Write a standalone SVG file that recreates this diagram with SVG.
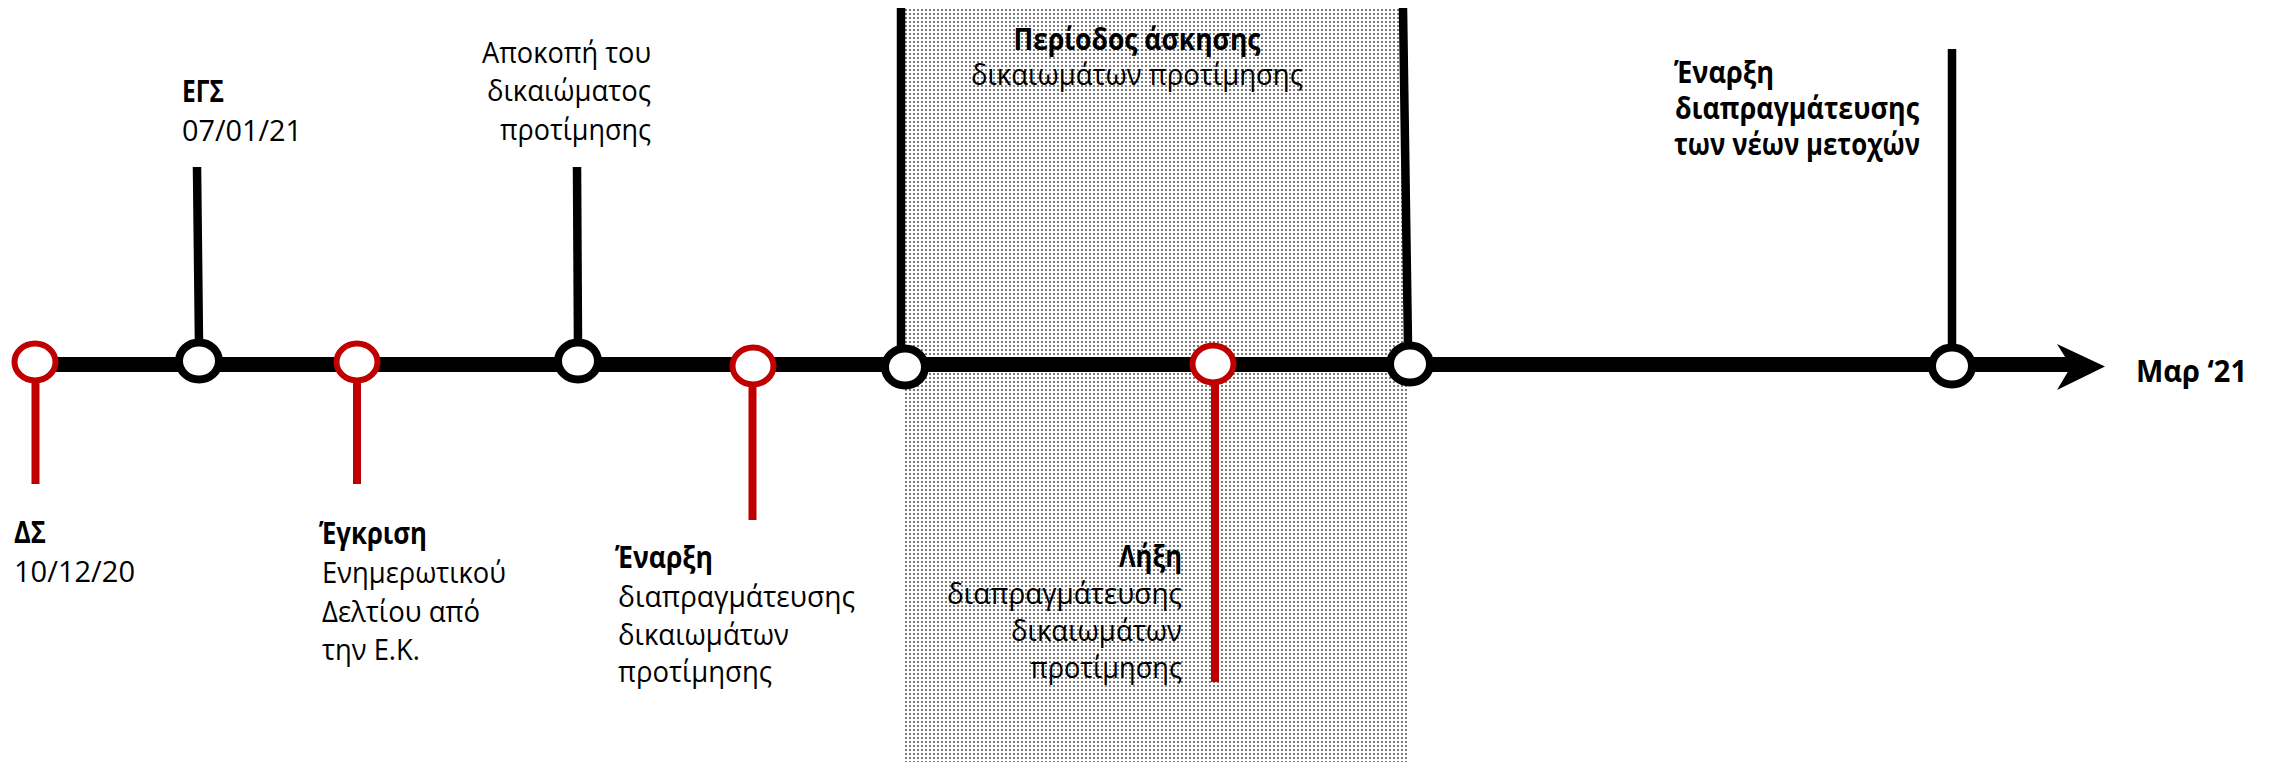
<svg xmlns="http://www.w3.org/2000/svg" width="2277" height="762" viewBox="0 0 2277 762">
<defs>
<pattern id="dots" width="4" height="4" patternUnits="userSpaceOnUse">
<rect width="4" height="4" fill="#ffffff"/>
<rect x="1" y="1" width="2" height="2" fill="#7a7a7a"/>
</pattern>
<style>
text{font-family:"Open Sans","Noto Sans","DejaVu Sans",sans-serif;font-size:29.5px;fill:#000}
.b{font-weight:700}
.e{text-anchor:end}
.m{text-anchor:middle}
.red{fill:#fff;stroke:#C00000;stroke-width:6}
.blk{fill:#fff;stroke:#000;stroke-width:8}
.rs{stroke:#C00000;stroke-width:8;fill:none}
.bs{stroke:#000;stroke-width:8.5;fill:none}
</style>
</defs>
<rect width="2277" height="762" fill="#fff"/>
<g id="period">
<rect x="905" y="8" width="503" height="754" fill="url(#dots)"/>
<line class="bs" x1="901" y1="8" x2="901" y2="348"/>
<line class="bs" x1="1403" y1="8" x2="1408" y2="345"/>
<text class="b m" x="1137" y="50" textLength="247" lengthAdjust="spacingAndGlyphs">Περίοδος άσκησης</text>
<text class="m" x="1137" y="85" textLength="332" lengthAdjust="spacingAndGlyphs">δικαιωμάτων προτίμησης</text>
</g>
<g id="connectors">
<line x1="35" y1="364.5" x2="2072" y2="364.5" stroke="#000" stroke-width="15"/>
<polygon points="2057,344 2105,366.5 2057,390 2071,366.5" fill="#000"/>
</g>
<g id="node-ds">
<line class="rs" x1="35.5" y1="380" x2="35.5" y2="484"/>
<ellipse class="red" cx="35" cy="362" rx="20.5" ry="18.5"/>
<text class="b" x="14" y="543" textLength="32" lengthAdjust="spacingAndGlyphs">ΔΣ</text>
<text x="14" y="582" textLength="121" lengthAdjust="spacingAndGlyphs">10/12/20</text>
</g>
<g id="node-egs">
<line class="bs" x1="197" y1="167" x2="199" y2="344"/>
<ellipse class="blk" cx="199" cy="361" rx="20" ry="18.5"/>
<text class="b" x="182" y="101.5" textLength="42" lengthAdjust="spacingAndGlyphs">ΕΓΣ</text>
<text x="182" y="140.5" textLength="120" lengthAdjust="spacingAndGlyphs">07/01/21</text>
</g>
<g id="node-egkrisi">
<line class="rs" x1="357" y1="380" x2="357" y2="484"/>
<ellipse class="red" cx="357" cy="362" rx="20.5" ry="18.5"/>
<text class="b" x="319" y="544" textLength="108" lengthAdjust="spacingAndGlyphs">Έγκριση</text>
<text x="322" y="583" textLength="184" lengthAdjust="spacingAndGlyphs">Ενημερωτικού</text>
<text x="322" y="621.5" textLength="158" lengthAdjust="spacingAndGlyphs">Δελτίου από</text>
<text x="322" y="659.5" textLength="98" lengthAdjust="spacingAndGlyphs">την Ε.Κ.</text>
</g>
<g id="node-apokopi">
<line class="bs" x1="577" y1="167" x2="578" y2="344"/>
<ellipse class="blk" cx="578" cy="361" rx="20" ry="18.5"/>
<text class="e" x="651" y="62.5" textLength="169" lengthAdjust="spacingAndGlyphs">Αποκοπή του</text>
<text class="e" x="651" y="101" textLength="164" lengthAdjust="spacingAndGlyphs">δικαιώματος</text>
<text class="e" x="651" y="139.5" textLength="151" lengthAdjust="spacingAndGlyphs">προτίμησης</text>
</g>
<g id="node-enarxi-rights">
<line class="rs" x1="752.5" y1="384" x2="752.5" y2="520"/>
<ellipse class="red" cx="753" cy="366" rx="20.5" ry="18.5"/>
<text class="b" x="615" y="568" textLength="98" lengthAdjust="spacingAndGlyphs">Έναρξη</text>
<text x="618" y="606.5" textLength="237" lengthAdjust="spacingAndGlyphs">διαπραγμάτευσης</text>
<text x="618" y="644.5" textLength="171" lengthAdjust="spacingAndGlyphs">δικαιωμάτων</text>
<text x="618" y="682" textLength="154" lengthAdjust="spacingAndGlyphs">προτίμησης</text>
</g>
<g id="node-period-start">
<ellipse class="blk" cx="905" cy="367" rx="20" ry="18.5"/>
</g>
<g id="node-lixi">
<line class="rs" x1="1215" y1="382" x2="1215" y2="682"/>
<ellipse class="red" cx="1213" cy="364" rx="20.5" ry="18.5"/>
<text class="b e" x="1182" y="567" textLength="63" lengthAdjust="spacingAndGlyphs">Λήξη</text>
<text class="e" x="1182" y="604" textLength="235" lengthAdjust="spacingAndGlyphs">διαπραγμάτευσης</text>
<text class="e" x="1182" y="641" textLength="171" lengthAdjust="spacingAndGlyphs">δικαιωμάτων</text>
<text class="e" x="1182" y="678" textLength="152" lengthAdjust="spacingAndGlyphs">προτίμησης</text>
</g>
<g id="node-period-end">
<ellipse class="blk" cx="1410" cy="364" rx="20" ry="18.5"/>
</g>
<g id="node-new-shares">
<line class="bs" x1="1952" y1="49" x2="1952" y2="348"/>
<ellipse class="blk" cx="1952" cy="366" rx="20" ry="18.5"/>
<text class="b" x="1674" y="83" textLength="100" lengthAdjust="spacingAndGlyphs">Έναρξη</text>
<text class="b" x="1675" y="119" textLength="244" lengthAdjust="spacingAndGlyphs">διαπραγμάτευσης</text>
<text class="b" x="1674" y="155" textLength="246" lengthAdjust="spacingAndGlyphs">των νέων μετοχών</text>
</g>
<g id="label-end">
<text class="b" x="2136" y="381.5" textLength="111" lengthAdjust="spacingAndGlyphs">Μαρ ‘21</text>
</g>
</svg>
